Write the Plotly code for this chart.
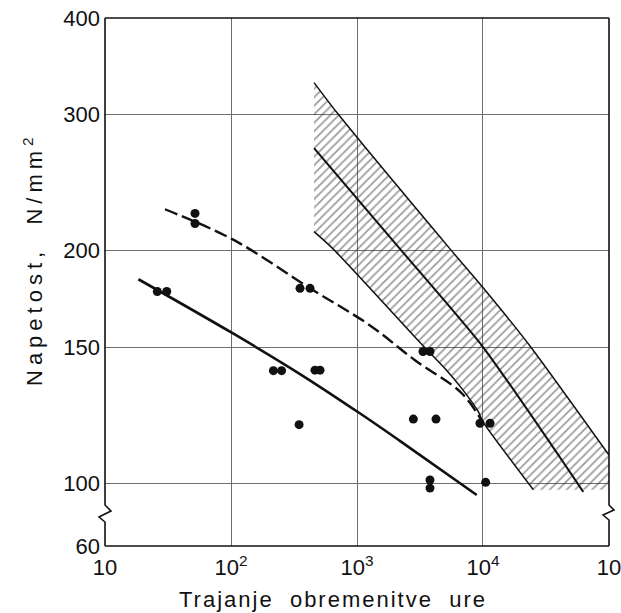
import math
import plotly.graph_objects as go

# ---------------- data ----------------
# measured points (hours, N/mm^2)
pts_x = [51.8, 51.8, 26.0, 30.9, 353, 424, 217, 252, 464, 509, 347,
         2800, 4236, 3340, 3795, 9460, 11370, 3795, 3795, 10500]
pts_y = [223.4, 216.8, 177, 177, 178.7, 178.7, 139.8, 139.8, 140, 140, 119,
         121, 121, 148, 148, 119.5, 119.5, 100.9, 98.5, 100.2]

# solid curve
solid_x = [18.4, 103, 353, 1038, 2190, 8920]
solid_y = [183.6, 156.3, 138.4, 123.3, 113.4, 96.5]

# dashed curve
dashed_x = [29.9, 104, 424, 1268, 2884, 6776, 10050]
dashed_y = [226.2, 206.6, 178.7, 160, 144.2, 130.7, 119.5]

# scatter band (upper, middle, lower limits)
band_up_x = [456, 690, 5470, 10370, 23600, 100000]
band_up_y = [330, 302, 201, 177.8, 150.5, 108.7]
band_mid_x = [456, 2193, 10000, 62500]
band_mid_y = [271.4, 201, 150, 97.4]
band_lo_x = [456, 646, 3357, 4990, 6776, 9180, 10000, 25100]
band_lo_y = [211.6, 201, 150.5, 140.7, 132.6, 123.7, 120, 98]
band_floor = 98
band_right = 100000

# axes
x_tickvals = [10, 100, 1000, 10000, 100000]
x_ticktext = ["10", "10<sup>2</sup>", "10<sup>3</sup>", "10<sup>4</sup>", "10"]
y_bottom = 82.9          # value at the axis break bottom (labelled 60)
y_tickvals = [y_bottom, 100, 150, 200, 300, 400]
y_ticktext = ["60", "100", "150", "200", "300", "400"]

# ---------------- figure ----------------
W, H = 621, 613
L, R, T, B = 105, 12, 18, 67
PW, PH = W - L - R, H - T - B

def px(xp):
    return (xp - L) / PW

def py(yp):
    return (H - B - yp) / PH

FONT = "Liberation Sans, DejaVu Sans, Arial, sans-serif"
INK = "#111111"

fig = go.Figure()

# hatched band
poly_x = band_up_x + [band_right, band_lo_x[-1]] + band_lo_x[::-1]
poly_y = band_up_y + [band_floor, band_floor] + band_lo_y[::-1]
fig.add_trace(go.Scatter(
    x=poly_x, y=poly_y, mode="lines", fill="toself",
    line=dict(width=0, color="rgba(0,0,0,0)"),
    fillcolor="rgba(0,0,0,0)",
    fillpattern=dict(shape="/", size=6, solidity=0.3,
                     fgcolor="#3a3a3a", bgcolor="rgba(255,255,255,0)"),
    hoverinfo="skip", showlegend=False))

for bx, by, w in [(band_up_x, band_up_y, 1.5),
                  (band_mid_x, band_mid_y, 2.0),
                  (band_lo_x, band_lo_y, 1.5)]:
    fig.add_trace(go.Scatter(x=bx, y=by, mode="lines",
                             line=dict(color=INK, width=w, shape="spline", smoothing=0.6),
                             showlegend=False, hoverinfo="skip"))

fig.add_trace(go.Scatter(x=solid_x, y=solid_y, mode="lines",
                         line=dict(color=INK, width=2.6, shape="spline"),
                         showlegend=False))
fig.add_trace(go.Scatter(x=dashed_x, y=dashed_y, mode="lines",
                         line=dict(color=INK, width=2.4, shape="spline",
                                   dash="13px,5px"),
                         showlegend=False))
fig.add_trace(go.Scatter(x=pts_x, y=pts_y, mode="markers",
                         marker=dict(color=INK, size=9, line=dict(width=0)),
                         showlegend=False))

# frame with axis breaks
shapes = []
lw = 1.6
shapes.append(dict(type="line", xref="paper", yref="paper", x0=0, x1=1, y0=1, y1=1,
                   line=dict(color=INK, width=lw), layer="above"))
shapes.append(dict(type="line", xref="paper", yref="paper", x0=0, x1=1, y0=0, y1=0,
                   line=dict(color=INK, width=lw), layer="above"))
left_path = ("M {a},{b} L {a},{c} L {d},{e} L {f},{g} L {a},{h} L {a},{i}").format(
    a=px(105), b=py(18), c=py(505), d=px(111), e=py(511), f=px(99), g=py(517),
    h=py(522), i=py(546))
right_path = ("M {a},{b} L {a},{c} L {d},{e} L {f},{g} L {a},{h} L {a},{i}").format(
    a=px(609), b=py(18), c=py(505), d=px(614), e=py(510), f=px(603), g=py(515),
    h=py(520), i=py(546))
for p in (left_path, right_path):
    shapes.append(dict(type="path", xref="paper", yref="paper", path=p,
                       line=dict(color=INK, width=lw), layer="above"))

fig.update_layout(
    width=W, height=H,
    margin=dict(l=L, r=R, t=T, b=B, autoexpand=False),
    paper_bgcolor="white", plot_bgcolor="white",
    font=dict(family=FONT, size=22, color=INK),
    shapes=shapes,
    annotations=[
        dict(text='<span style="letter-spacing:2px">Trajanje  obremenitve  ure</span>',
             xref="paper", yref="paper", x=px(333), y=py(599),
             xanchor="center", yanchor="middle", showarrow=False,
             font=dict(size=22, family=FONT)),
        dict(text='<span style="letter-spacing:5px">Napetost,  N/mm<sup>2</sup></span>',
             xref="paper", yref="paper", x=px(33), y=py(259),
             xanchor="center", yanchor="middle", showarrow=False, textangle=-90,
             font=dict(size=22, family=FONT)),
    ],
)
fig.update_xaxes(type="log", range=[0.9999, 5.0001], tickvals=x_tickvals, ticktext=x_ticktext,
                 showgrid=True, gridcolor="#6e6e6e", gridwidth=1, showline=False,
                 zeroline=False, ticks="", ticklabelstandoff=6, automargin=False,
                 ticklabeloverflow="allow",
                 tickfont=dict(size=22, family=FONT))
fig.update_yaxes(type="log", range=[math.log10(y_bottom) - 0.0001, math.log10(400) + 0.0001],
                 tickvals=y_tickvals, ticktext=y_ticktext,
                 showgrid=True, gridcolor="#6e6e6e", gridwidth=1, showline=False,
                 zeroline=False, ticks="", ticklabelstandoff=4, automargin=False,
                 ticklabeloverflow="allow",
                 tickfont=dict(size=22, family=FONT))

fig.write_html("out.html", config={"displayModeBar": False},
               post_script="document.body.style.margin='0px';document.body.style.overflow='hidden';")
